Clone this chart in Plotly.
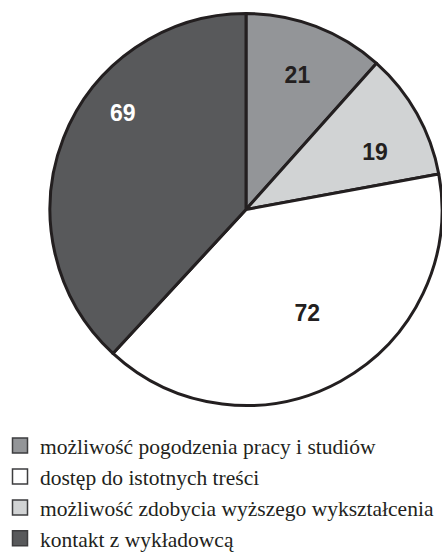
import plotly.graph_objects as go

# Slice order (clockwise from 12 o'clock)
slice_labels = [
    "możliwość pogodzenia pracy i studiów",
    "możliwość zdobycia wyższego wykształcenia",
    "dostęp do istotnych treści",
    "kontakt z wykładowcą",
]
slice_values = [21, 19, 72, 69]
slice_colors = ["#939598", "#d1d3d4", "#ffffff", "#58595b"]
text_colors = ["#231f20", "#231f20", "#231f20", "#ffffff"]

# Legend order as shown
legend_labels = [
    "możliwość pogodzenia pracy i studiów",
    "dostęp do istotnych treści",
    "możliwość zdobycia wyższego wykształcenia",
    "kontakt z wykładowcą",
]
legend_colors = ["#939598", "#ffffff", "#d1d3d4", "#58595b"]

W, H = 442, 552
NB = "\u00a0"

# label templates (padding lines nudge the value text within its slice)
label_templates = [
    "%{value}",
    NB + "<br>%{value}",
    NB + "<br>" + NB * 4 + "%{value}",
    "%{value}" + NB * 9 + ("<br>" + NB) * 4,
]

fig = go.Figure()
fig.add_trace(go.Pie(
    labels=slice_labels,
    values=slice_values,
    sort=False,
    direction="clockwise",
    rotation=0,
    marker=dict(colors=slice_colors, line=dict(color="#231f20", width=3)),
    texttemplate=label_templates,
    textposition="inside",
    insidetextorientation="horizontal",
    textfont=dict(family="Liberation Sans", size=23, color=text_colors, weight="bold"),
    showlegend=False,
    hoverinfo="label+value",
    domain=dict(x=[50 / W, 442 / W], y=[1 - 405.5 / H, 1 - 13.5 / H]),
))

for i, (lab, col) in enumerate(zip(legend_labels, legend_colors)):
    fig.add_trace(go.Scatter(
        x=[None], y=[None], mode="markers", name=lab, legendgroup=f"g{i}",
        marker=dict(symbol="square", size=15, color=col, line=dict(color="#3d3d3f", width=1.5)),
    ))

fig.update_layout(
    width=W, height=H,
    margin=dict(l=0, r=0, t=0, b=0, autoexpand=False),
    paper_bgcolor="white", plot_bgcolor="white",
    xaxis=dict(visible=False), yaxis=dict(visible=False),
    legend=dict(
        x=0.0, y=1 - 425 / H, xanchor="left", yanchor="top",
        xref="container", yref="container",
        font=dict(family="Liberation Serif, DejaVu Serif, serif", size=21.5, color="#231f20"),
        itemwidth=30, traceorder="grouped", tracegroupgap=0, bgcolor="rgba(0,0,0,0)",
    ),
)

fig.write_html("out.html", config={"displayModeBar": False},
               post_script="document.body.style.margin='0';")
